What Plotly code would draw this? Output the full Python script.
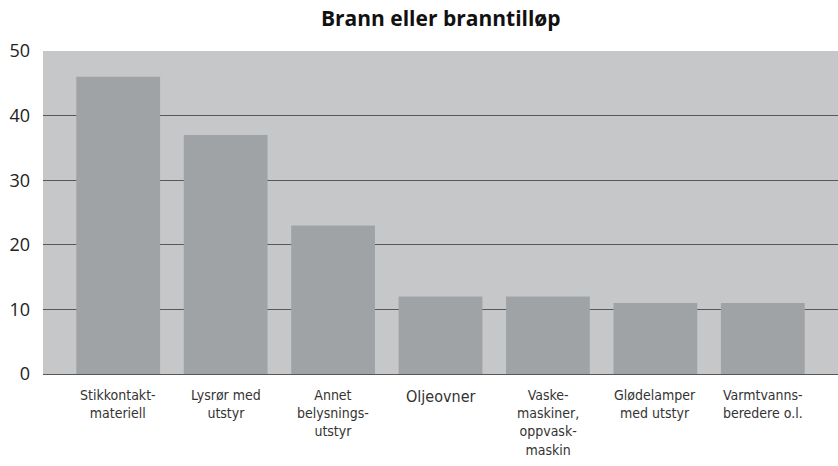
import plotly.graph_objects as go

categories = ["Stikkontakt-<br>materiell", "Lysrør med<br>utstyr", "Annet<br>belysnings-<br>utstyr",
              "Oljeovner", "Vaske-<br>maskiner,<br>oppvask-<br>maskin", "Glødelamper<br>med utstyr",
              "Varmtvanns-<br>beredere o.l."]
values = [46, 37, 23, 12, 12, 11, 11]
label_sizes = [15, 15, 15, 17, 15, 15, 15]
yticks = [0, 10, 20, 30, 40, 50]

xs = list(range(len(categories)))
fig = go.Figure(go.Bar(x=xs, y=values, marker=dict(color="#a0a3a6", line=dict(width=0)),
                       width=0.78, hoverinfo="skip"))

narrow = "DejaVu Sans Condensed, Liberation Sans Narrow, Roboto, sans-serif"
for i, (c, s) in enumerate(zip(categories, label_sizes)):
    fig.add_annotation(x=i, y=0, xref="x", yref="paper", yanchor="top", yshift=-11,
                       text=c, showarrow=False, align="center",
                       font=dict(family=narrow, size=s - 1, color="#333333"))

fig.update_layout(
    width=838, height=466,
    margin=dict(l=43, r=0, t=51, b=92),
    paper_bgcolor="white", plot_bgcolor="#c6c7c9",
    showlegend=False,
    title=dict(text="<b>Brann eller branntilløp</b>", x=0.526, xanchor="center", y=0.961, yanchor="middle",
               font=dict(family="Open Sans, sans-serif", size=21, color="#111111")),
    xaxis=dict(range=[-0.7, 6.7], showticklabels=False, showgrid=False, zeroline=False, fixedrange=True),
    yaxis=dict(range=[0, 50], tickvals=yticks, showgrid=True, gridcolor="#585858", gridwidth=1.3,
               zeroline=True, zerolinecolor="#585858", zerolinewidth=1.3, fixedrange=True,
               tickfont=dict(family="Open Sans, sans-serif", size=18, color="#222222"),
               ticklabelstandoff=12, layer="below traces"),
)
fig.write_html("out.html", config={"displayModeBar": False},
               post_script="document.body.style.margin='0';")
